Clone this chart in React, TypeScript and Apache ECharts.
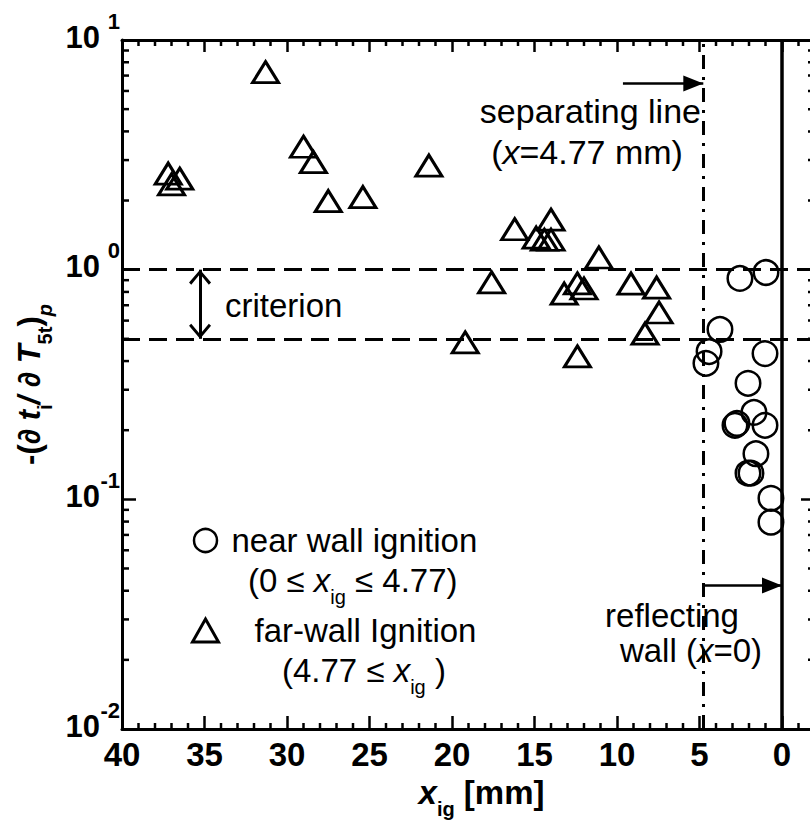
import React, { useEffect, useRef } from 'react';
import * as echarts from 'echarts';

// Far-wall ignition cases (triangles)
const farX = [31.3, 37.2, 36.5, 37.0, 29.0, 28.4, 27.5, 25.4, 21.4, 16.2, 14.0, 14.9, 14.4, 14.0, 11.1, 17.6, 12.4, 12.0, 13.2, 9.15, 7.6, 7.45, 8.3, 19.2, 12.4];
const farY = [7.24, 2.62, 2.49, 2.35, 3.43, 2.94, 1.99, 2.07, 2.84, 1.5, 1.65, 1.38, 1.35, 1.35, 1.13, 0.88, 0.871, 0.828, 0.787, 0.87, 0.836, 0.651, 0.527, 0.482, 0.419];

// Near-wall ignition cases (circles)
const nearX = [2.55, 0.97, 3.76, 4.42, 4.61, 1.03, 2.06, 1.7, 2.73, 2.85, 1.03, 1.58, 2.06, 1.88, 0.67, 0.67];
const nearY = [0.916, 0.972, 0.549, 0.44, 0.391, 0.431, 0.32, 0.239, 0.214, 0.21, 0.21, 0.158, 0.13, 0.13, 0.101, 0.0795];

// Minor tick positions
const xMinorTicks = [-1, 1, 2, 3, 4, 6, 7, 8, 9, 11, 12, 13, 14, 16, 17, 18, 19, 21, 22, 23, 24, 26, 27, 28, 29, 31, 32, 33, 34, 36, 37, 38, 39];
const yMinorTicks = [0.02, 0.03, 0.04, 0.05, 0.06, 0.07, 0.08, 0.09, 0.2, 0.3, 0.4, 0.5, 0.6, 0.7, 0.8, 0.9, 2, 3, 4, 5, 6, 7, 8, 9];

// Reference lines and annotation anchors
const criterionBand = [1, 0.5];
const separatingX = 4.77;
const wallX = 0;
const separatingArrow = { fromX: 9.64, toX: separatingX, y: 6.47 };
const wallArrow = { fromX: separatingX, toX: wallX, y: 0.0422 };
const criterionArrowX = 35.27;

const FONT = "'Liberation Sans', Arial, Helvetica, sans-serif";
const BLACK = '#000';

const chevron = 'path://M11,0 L22,12.5 L19.8,14.5 L11,4.3 L2.2,14.5 L0,12.5 Z';

const decadeExponent = (v: number) => String(Math.round(Math.log10(v)));

// Rich-text styles: main glyphs sit at the top of the line, subscripts at the bottom
const mainTok = (size: number, extra: any = {}) => ({
  fontFamily: FONT, fontSize: size, color: BLACK, fill: BLACK, padding: [0, 0, 10, 0], verticalAlign: 'top', ...extra,
});
const subTok = (size: number, extra: any = {}) => ({
  fontFamily: FONT, fontSize: size, color: BLACK, fill: BLACK, verticalAlign: 'bottom', ...extra,
});

export default function App() {
  const ref = useRef<HTMLDivElement>(null);

  useEffect(() => {
    if (!ref.current) return;
    const chart = echarts.init(ref.current, undefined, { renderer: 'svg' });

    const axisLine = { show: true, onZero: false, lineStyle: { color: BLACK, width: 3 } };
    const logRange = { type: 'log', logBase: 10, min: 0.01, max: 10 };

    const option: any = {
      animation: false,
      backgroundColor: '#fff',
      grid: { left: 122, top: 40, width: 693, height: 689, show: false },
      legend: {
        orient: 'vertical',
        left: 186,
        top: 519,
        itemWidth: 26,
        itemHeight: 23,
        itemGap: 57,
        selectedMode: false,
        data: [
          { name: 'near wall ignition', icon: 'circle', itemStyle: { color: 'rgba(0,0,0,0)', borderColor: BLACK, borderWidth: 2.5 } },
          { name: 'far-wall Ignition', icon: 'triangle', itemStyle: { color: 'rgba(0,0,0,0)', borderColor: BLACK, borderWidth: 3 } },
        ],
        formatter: (name: string) => (name === 'near wall ignition' ? `{a|${name}}` : `{c|${name}}`),
        textStyle: {
          color: BLACK,
          fontFamily: FONT,
          fontSize: 33,
          rich: {
            a: { fontFamily: FONT, fontSize: 33, color: BLACK, lineHeight: 34, padding: [0, 0, 0, 8] },
            c: { fontFamily: FONT, fontSize: 33, color: BLACK, lineHeight: 34, padding: [0, 0, 0, 31] },
          },
        },
      },
      xAxis: [
        {
          type: 'value',
          min: -2,
          max: 40,
          inverse: true,
          splitNumber: 8,
          position: 'bottom',
          axisLine,
          axisTick: { inside: true, length: 13, lineStyle: { color: BLACK, width: 2.5 } },
          axisLabel: {
            color: BLACK,
            fontFamily: FONT,
            fontSize: 33,
            fontWeight: 'bold',
            margin: 9,
            formatter: (v: number) => (v < 0 ? '' : String(v)),
          },
          splitLine: { show: false },
          name: '{xi|x}{s|ig}{b| [mm]}',
          nameLocation: 'middle',
          nameGap: 40,
          nameTextStyle: {
            padding: [0, 0, 0, 26],
            rich: {
              xi: mainTok(33, { fontWeight: 'bold', fontStyle: 'italic' }),
              b: mainTok(33, { fontWeight: 'bold' }),
              s: subTok(20, { fontWeight: 'bold' }),
            },
          },
        },
        {
          type: 'value',
          min: -2,
          max: 40,
          inverse: true,
          splitNumber: 8,
          position: 'top',
          axisLine,
          axisTick: { inside: true, length: 12, lineStyle: { color: BLACK, width: 2.5 } },
          axisLabel: { show: false },
          splitLine: { show: false },
        },
      ],
      yAxis: [
        {
          ...logRange,
          position: 'left',
          axisLine,
          axisTick: { inside: true, length: 14, lineStyle: { color: BLACK, width: 2.5 } },
          axisLabel: {
            margin: 22,
            // a thin empty second line lifts the mantissa slightly
            formatter: () => '{b|10}\n{h| }',
            rich: {
              b: { fontFamily: FONT, fontSize: 31, fontWeight: 'bold', color: BLACK },
              h: { fontFamily: FONT, fontSize: 6, color: BLACK },
            },
          },
          splitLine: { show: false },
          name: '{a|-(}{ai|\u2202 t}{s|i}{ai|/ \u2202 T}{s|5t}{a|)}{si|p}',
          nameLocation: 'middle',
          nameRotate: 90,
          nameGap: 64,
          nameTextStyle: {
            rich: {
              a: mainTok(31, { fontWeight: 'bold' }),
              ai: mainTok(31, { fontWeight: 'bold', fontStyle: 'italic' }),
              s: subTok(20, { fontWeight: 'bold' }),
              si: subTok(20, { fontWeight: 'bold', fontStyle: 'italic' }),
            },
          },
        },
        {
          ...logRange,
          position: 'right',
          axisLine,
          axisTick: { inside: true, length: 14, lineStyle: { color: BLACK, width: 2.5 } },
          axisLabel: { show: false },
          splitLine: { show: false },
        },
        {
          // overlay axis carrying the raised decade exponents (second line is an empty spacer)
          ...logRange,
          position: 'left',
          axisLine: { show: false, onZero: false },
          axisTick: { show: false },
          splitLine: { show: false },
          axisLabel: {
            margin: 2,
            formatter: (v: number) => `{s|${decadeExponent(v)}}\n{g| }`,
            rich: {
              s: { fontFamily: FONT, fontSize: 22, fontWeight: 'bold', color: BLACK },
              g: { fontFamily: FONT, fontSize: 38, color: BLACK },
            },
          },
        },
      ],
      series: [
        {
          name: 'near wall ignition',
          type: 'scatter',
          data: nearX.map((x, i) => [x, nearY[i]]),
          symbol: 'circle',
          symbolSize: 24.5,
          itemStyle: { color: 'rgba(0,0,0,0)', borderColor: BLACK, borderWidth: 2.5, opacity: 1 },
          emphasis: { disabled: true },
          z: 3,
        },
        {
          name: 'far-wall Ignition',
          type: 'scatter',
          data: farX.map((x, i) => [x, farY[i]]),
          symbol: 'triangle',
          symbolSize: [26, 21],
          itemStyle: { color: 'rgba(0,0,0,0)', borderColor: BLACK, borderWidth: 3, opacity: 1 },
          emphasis: { disabled: true },
          z: 3,
          markLine: {
            silent: true,
            symbol: ['none', 'none'],
            label: { show: false },
            emphasis: { disabled: true },
            data: [
              ...criterionBand.map((v) => ({ yAxis: v, lineStyle: { color: BLACK, width: 3, type: [18, 9] } })),
              { xAxis: separatingX, lineStyle: { color: BLACK, width: 3, type: [14, 8, 3, 8] } },
              { xAxis: wallX, lineStyle: { color: BLACK, width: 3.5, type: 'solid' } },
              [
                { coord: [separatingArrow.fromX, separatingArrow.y], symbol: 'none' },
                { coord: [separatingArrow.toX, separatingArrow.y], symbol: 'triangle', symbolSize: [16, 20], symbolOffset: [0, '50%'], lineStyle: { color: BLACK, width: 2.5, type: 'solid' } },
              ],
              [
                { coord: [wallArrow.fromX, wallArrow.y], symbol: 'none' },
                { coord: [wallArrow.toX, wallArrow.y], symbol: 'triangle', symbolSize: [16, 20], symbolOffset: [0, '50%'], lineStyle: { color: BLACK, width: 2.5, type: 'solid' } },
              ],
              [
                { coord: [criterionArrowX, criterionBand[0]], symbol: chevron, symbolSize: [22, 15], symbolOffset: [0, '50%'] },
                { coord: [criterionArrowX, criterionBand[1]], symbol: chevron, symbolSize: [22, 15], symbolOffset: [0, '50%'], lineStyle: { color: BLACK, width: 3, type: 'solid' } },
              ],
            ],
          },
        },
        {
          name: 'minor ticks',
          type: 'custom',
          silent: true,
          clip: false,
          z: 4,
          encode: { x: 0, y: 1 },
          data: [...xMinorTicks.map((v) => [v, 1, 0]), ...yMinorTicks.map((v) => [0, v, 1])],
          renderItem: (params: any, api: any) => {
            const cs = params.coordSys;
            const kind = api.value(2);
            const style = { stroke: BLACK, lineWidth: 2.5 };
            if (kind === 0) {
              const px = api.coord([api.value(0), 1])[0];
              const bottom = cs.y + cs.height;
              return {
                type: 'group',
                children: [
                  { type: 'line', shape: { x1: px, y1: bottom, x2: px, y2: bottom - 6 }, style },
                  { type: 'line', shape: { x1: px, y1: cs.y, x2: px, y2: cs.y + 6 }, style },
                ],
              };
            }
            const py = api.coord([0, api.value(1)])[1];
            const right = cs.x + cs.width;
            return {
              type: 'group',
              children: [
                { type: 'line', shape: { x1: cs.x, y1: py, x2: cs.x + 7, y2: py }, style },
                { type: 'line', shape: { x1: right, y1: py, x2: right - 7, y2: py }, style },
              ],
            };
          },
        },
      ],
      graphic: [
        {
          type: 'text',
          x: 701,
          y: 111,
          z: 100,
          style: { text: 'separating line', align: 'right', verticalAlign: 'middle', fontFamily: FONT, fontSize: 34, fill: BLACK },
        },
        {
          type: 'text',
          x: 587,
          y: 152,
          z: 100,
          style: {
            text: '{n|(}{i|x}{n|=4.77 mm)}',
            align: 'center',
            verticalAlign: 'middle',
            rich: {
              n: { fontFamily: FONT, fontSize: 34, fill: BLACK },
              i: { fontFamily: FONT, fontSize: 34, fontStyle: 'italic', fill: BLACK },
            },
          },
        },
        {
          type: 'text',
          x: 225,
          y: 305,
          z: 100,
          style: { text: 'criterion', align: 'left', verticalAlign: 'middle', fontFamily: FONT, fontSize: 33, fill: BLACK },
        },
        {
          type: 'text',
          x: 248,
          y: 585,
          z: 100,
          style: {
            text: '{n|(0 \u2264 }{i|x}{s|ig}{n| \u2264 4.77)}',
            align: 'left',
            verticalAlign: 'middle',
            rich: {
              n: mainTok(33),
              i: mainTok(33, { fontStyle: 'italic' }),
              s: subTok(20),
            },
          },
        },
        {
          type: 'text',
          x: 282,
          y: 675,
          z: 100,
          style: {
            text: '{n|(4.77 \u2264 }{i|x}{s|ig}{n| )}',
            align: 'left',
            verticalAlign: 'middle',
            rich: {
              n: mainTok(33),
              i: mainTok(33, { fontStyle: 'italic' }),
              s: subTok(20),
            },
          },
        },
        {
          type: 'text',
          x: 672,
          y: 615,
          z: 100,
          style: { text: 'reflecting', align: 'center', verticalAlign: 'middle', fontFamily: FONT, fontSize: 33, fill: BLACK },
        },
        {
          type: 'text',
          x: 691,
          y: 650,
          z: 100,
          style: {
            text: '{n|wall (}{i|x}{n|=0)}',
            align: 'center',
            verticalAlign: 'middle',
            rich: {
              n: { fontFamily: FONT, fontSize: 33, fill: BLACK },
              i: { fontFamily: FONT, fontSize: 33, fontStyle: 'italic', fill: BLACK },
            },
          },
        },
      ],
    };

    chart.setOption(option);
    return () => chart.dispose();
  }, []);

  return (
    <div style={{ position: 'fixed', left: 0, top: 0, width: 810, height: 829, overflow: 'hidden', background: '#fff' }}>
      <div ref={ref} style={{ width: 830, height: 829 }} />
    </div>
  );
}
